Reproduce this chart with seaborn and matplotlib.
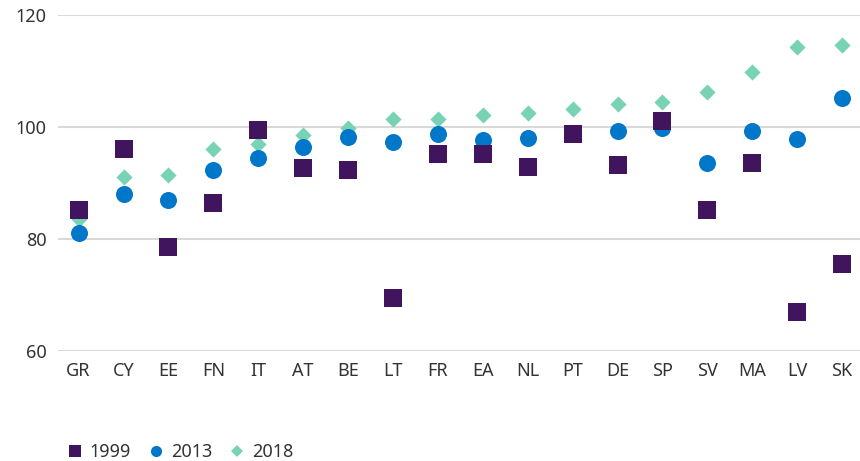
import numpy as np
import pandas as pd
import matplotlib
matplotlib.use("Agg")
import matplotlib.pyplot as plt
import seaborn as sns
from matplotlib.lines import Line2D

# --- Data ---
countries = ['GR', 'CY', 'EE', 'FN', 'IT', 'AT', 'BE', 'LT', 'FR', 'EA',
             'NL', 'PT', 'DE', 'SP', 'SV', 'MA', 'LV', 'SK']
v1999 = [85.1, 96.0, 78.5, 86.4, 99.5, 92.7, 92.4, 69.4, 95.2, 95.1,
         92.9, 98.8, 93.3, 101.0, 85.1, 93.5, 66.9, 75.6]
v2013 = [81.0, 88.0, 86.9, 92.4, 94.5, 96.4, 98.3, 97.3, 98.75, 97.75,
         98.1, 98.9, 99.35, 99.9, 93.6, 99.35, 97.9, 105.2]
v2018 = [83.6, 91.1, 91.4, 96.0, 97.0, 98.6, 99.8, 101.4, 101.4, 102.1,
         102.5, 103.2, 104.05, 104.5, 106.25, 109.9, 114.3, 114.6]

years = ['1999', '2013', '2018']
colors = {'1999': '#41155e', '2013': '#0077c8', '2018': '#78d3b5'}
markers = {'1999': 's', '2013': 'o', '2018': 'D'}
sizes = {'1999': 150, '2013': 150, '2018': 68}
zorders = {'1999': 4, '2013': 3, '2018': 2}

df = pd.DataFrame({'country': countries, '1999': v1999, '2013': v2013, '2018': v2018})
long_df = df.melt(id_vars='country', var_name='year', value_name='value')

sns.set_theme(style="white")
plt.rcParams['font.family'] = ['Noto Sans', 'DejaVu Sans']
text_color = '#333333'

fig = plt.figure(figsize=(8.6, 4.61), dpi=100)
ax = fig.add_axes([0.0674, 0.2386, 0.9326, 0.7289])

# draw 2018 first so squares sit on top
for yr in ['2018', '2013', '1999']:
    sub = long_df[long_df['year'] == yr]
    sns.scatterplot(data=sub, x='country', y='value', ax=ax, marker=markers[yr],
                    color=colors[yr], s=sizes[yr], linewidth=0, zorder=zorders[yr],
                    clip_on=False, legend=False)

ax.set_ylim(60, 120)
ax.set_xlim(-0.46, len(countries) - 0.6)
ax.set_yticks([60, 80, 100, 120])
ax.yaxis.grid(True, color='#d9d9d9', linewidth=1.5)
ax.xaxis.grid(False)
ax.set_axisbelow(True)
for sp in ax.spines.values():
    sp.set_visible(False)
ax.set_xlabel('')
ax.set_ylabel('')
ax.tick_params(axis='both', length=0, labelsize=13, colors=text_color)
ax.tick_params(axis='y', pad=8)
ax.tick_params(axis='x', pad=8)

handles = [Line2D([], [], linestyle='none', marker=markers[y], color=colors[y],
                  markersize=8 if y != '2018' else 6.5, markeredgewidth=0)
           for y in years]
fig.legend(handles, years, loc='lower left', bbox_to_anchor=(0.058, -0.035), ncol=3,
           frameon=False, fontsize=13, handletextpad=0.3, columnspacing=0.9,
           handlelength=1.0, labelcolor=text_color)

fig.savefig('out.png', dpi=100)
